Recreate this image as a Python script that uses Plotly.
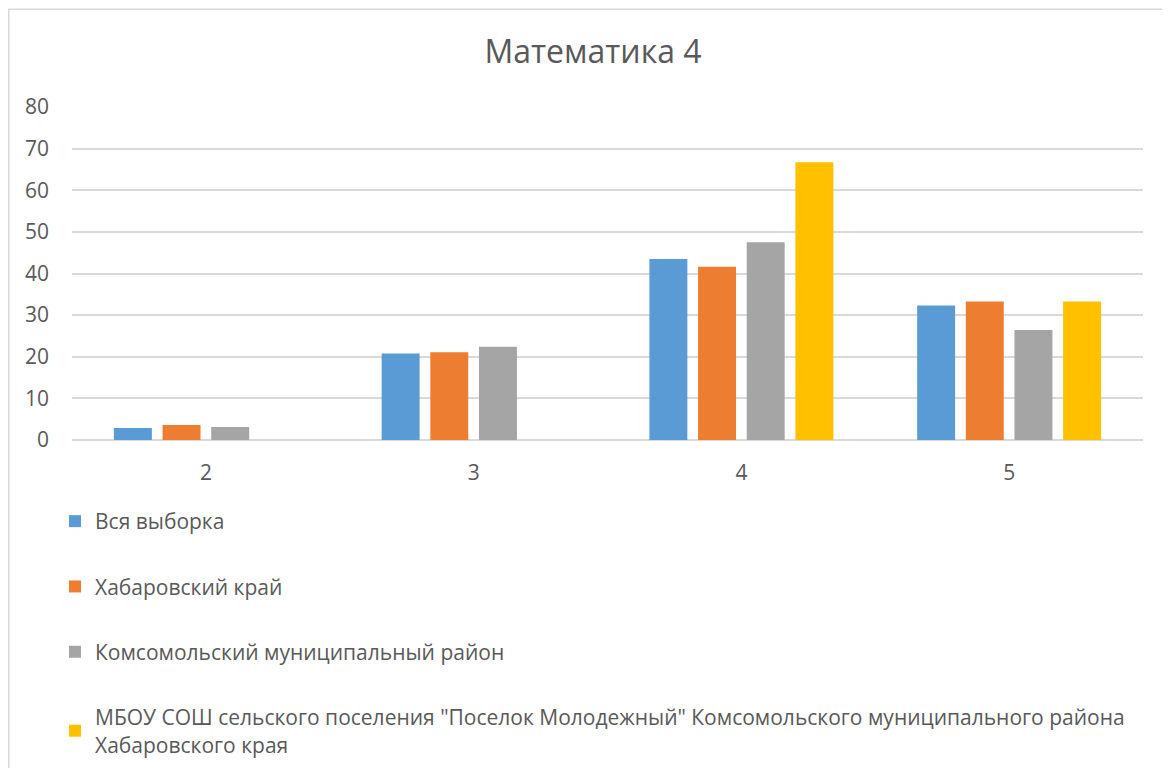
import plotly.graph_objects as go

categories = ["2", "3", "4", "5"]
series_names = [
    "Вся выборка",
    "Хабаровский край",
    "Комсомольский муниципальный район",
    "МБОУ СОШ сельского поселения \"Поселок Молодежный\" Комсомольского муниципального района<br>Хабаровского края",
]
vsya = [2.9, 20.8, 43.5, 32.3]
khab = [3.6, 21.1, 41.6, 33.3]
koms = [3.1, 22.4, 47.5, 26.4]
mbou = [None, None, 66.7, 33.3]
colors = ["#5B9BD5", "#ED7D31", "#A5A5A5", "#FFC000"]
yticks = [0, 10, 20, 30, 40, 50, 60, 70, 80]

W, H = 1170, 760
OFF = 8  # page body offset
L, R, T, B = 72 - OFF, 1143 - OFF, 106.7 - OFF, 440 - OFF

fig = go.Figure()
for i, (name, vals) in enumerate(zip(series_names, [vsya, khab, koms, mbou])):
    fig.add_trace(go.Bar(
        x=categories, y=vals, name=name,
        marker=dict(color=colors[i], line=dict(width=0)),
        legendgroup=f"g{i}",
    ))

pw = R - L
ph = B - T
fig.add_shape(type="rect", xref="paper", yref="paper",
              x0=(0.8 - L) / pw, x1=(W + 20 - L) / pw,
              y0=(B - (H + 20)) / ph, y1=(B - 0.8) / ph,
              line=dict(color="#D9D9D9", width=1.5), fillcolor="rgba(0,0,0,0)", layer="below")

fig.update_layout(
    width=W, height=H,
    margin=dict(l=L, r=W - R, t=T, b=H - B, pad=0),
    paper_bgcolor="white", plot_bgcolor="white",
    font=dict(family="Open Sans", color="#595959"),
    title=dict(text="Математика 4", x=0.5, xanchor="center", y=1 - 44 / H, yanchor="middle",
               font=dict(size=32, color="#595959")),
    barmode="group", bargap=0.273, bargroupgap=0.22,
    xaxis=dict(type="category", showgrid=False, showline=False, ticks="",
               tickfont=dict(size=21, color="#595959"), ticklabelstandoff=18),
    yaxis=dict(range=[0, 80], tickvals=yticks, showgrid=True, gridcolor="#D9D9D9", gridwidth=1.5,
               zeroline=True, zerolinecolor="#D9D9D9", zerolinewidth=1.5,
               tickfont=dict(size=21, color="#595959"), ticklabelstandoff=22),
    legend=dict(orientation="v", xref="paper", x=(47 - L) / pw, xanchor="left",
                yref="container", y=1 - 493 / H, yanchor="top",
                font=dict(size=21, color="#595959"), tracegroupgap=35, itemwidth=30,
                bgcolor="rgba(0,0,0,0)"),
    showlegend=True,
)

fig.write_html("out.html")
